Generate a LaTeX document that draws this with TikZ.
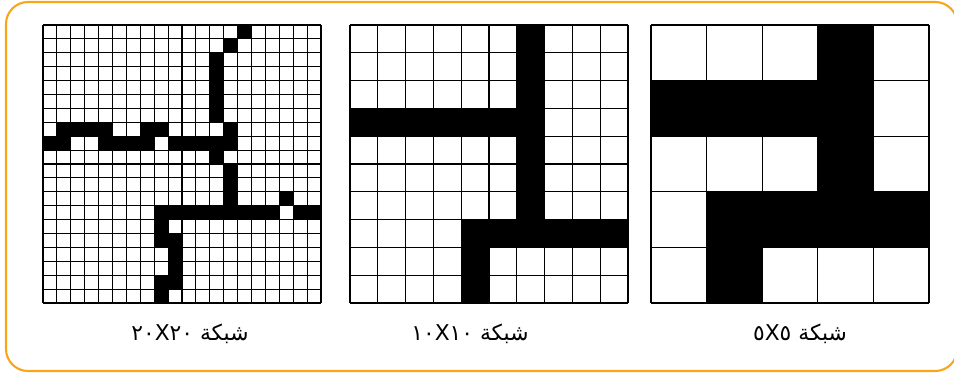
\documentclass[tikz,border=0pt]{standalone}
\usepackage{fontspec}
\usepackage{xcolor}
\TeXXeTstate=1
\newfontfamily\arabicfont[Script=Arabic]{DejaVu Sans}
\definecolor{frameorange}{RGB}{250,166,26}

\begin{document}
\begin{tikzpicture}[
  gridline/.style={draw=black, line width=0.75pt},
  cell/.style={fill=black},
  caption/.style={font=\arabicfont\fontsize{15.5}{18}\selectfont, inner sep=0pt},
]
\useasboundingbox (0,0) rectangle (23.85,9.35);
\draw[frameorange, line width=1.5pt, rounded corners=0.55cm] (0.15,0.075) rectangle (23.93,9.3);

% 20x20 grid
\begin{scope}[shift={(1.075,8.725)}, x=0.3475cm, y=-0.3475cm]
  \foreach \c/\r in {14/0, 13/1, 12/2, 12/3, 12/4, 12/5, 12/6,
      1/7, 2/7, 3/7, 4/7, 7/7, 8/7, 13/7,
      0/8, 1/8, 4/8, 5/8, 6/8, 7/8, 9/8, 10/8, 11/8, 12/8, 13/8,
      12/9, 13/10, 13/11, 13/12, 17/12,
      8/13, 9/13, 10/13, 11/13, 12/13, 13/13, 14/13, 15/13, 16/13, 18/13, 19/13,
      8/14, 8/15, 9/15, 9/16, 9/17, 8/18, 9/18, 8/19}
    \fill[cell] (\c,\r) rectangle ++(1,1);
  \foreach \i in {0,...,20} {
    \draw[gridline] (\i,0) -- (\i,20);
    \draw[gridline] (0,\i) -- (20,\i);
  }
\end{scope}

% 10x10 grid
\begin{scope}[shift={(8.75,8.725)}, x=0.695cm, y=-0.695cm]
  \foreach \c/\r in {6/0, 6/1, 6/2, 0/3, 1/3, 2/3, 3/3, 4/3, 5/3, 6/3,
      6/4, 6/5, 6/6, 4/7, 5/7, 6/7, 7/7, 8/7, 9/7, 4/8, 4/9}
    \fill[cell] (\c,\r) rectangle ++(1,1);
  \foreach \i in {0,...,10} {
    \draw[gridline] (\i,0) -- (\i,10);
    \draw[gridline] (0,\i) -- (10,\i);
  }
\end{scope}

% 5x5 grid
\begin{scope}[shift={(16.275,8.725)}, x=1.39cm, y=-1.39cm]
  \foreach \c/\r in {3/0, 0/1, 1/1, 2/1, 3/1, 3/2, 1/3, 2/3, 3/3, 4/3, 1/4}
    \fill[cell] (\c,\r) rectangle ++(1,1);
  \foreach \i in {0,...,5} {
    \draw[gridline] (\i,0) -- (\i,5);
    \draw[gridline] (0,\i) -- (5,\i);
  }
\end{scope}

\node[caption] (lbl20) at (4.75,1.0) {\beginR شبكة \beginL ٢٠X٢٠\endL\endR};
\node[caption] (lbl10) at (11.75,1.0) {\beginR شبكة \beginL ١٠X١٠\endL\endR};
\node[caption] (lbl5) at (20.0,1.0) {\beginR شبكة \beginL ٥X٥\endL\endR};
\end{tikzpicture}
\end{document}
